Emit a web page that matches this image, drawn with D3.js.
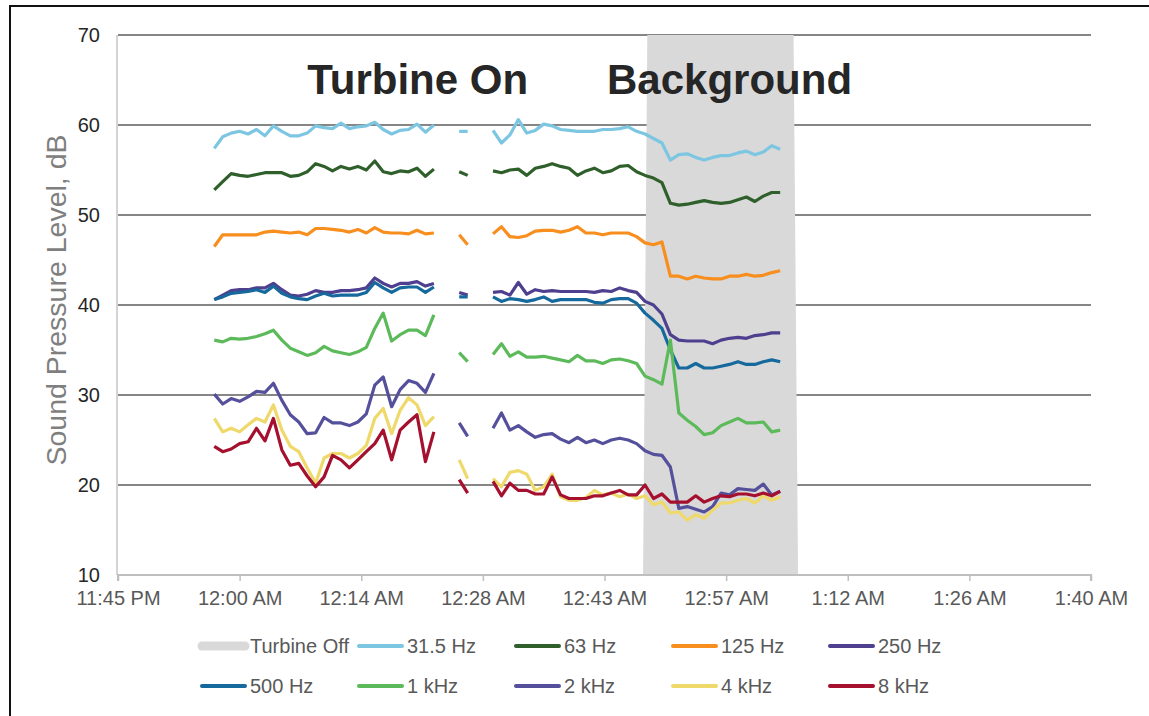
<!DOCTYPE html>
<html><head><meta charset="utf-8">
<script src="https://cdn.jsdelivr.net/npm/d3@7"></script>
<style>
html,body{margin:0;padding:0;background:#fff;}
svg{display:block;font-family:"Liberation Sans",Arial,sans-serif;}
</style></head>
<body><svg id="chart" width="1149" height="716"></svg>
<script>
// ---------- data ----------
const yTicks = [10, 20, 30, 40, 50, 60, 70];
const xTickTimes = ["23:45:36","00:00:00","00:14:24","00:28:48","00:43:12","00:57:36","01:12:00","01:26:24","01:40:48"];
const xTickLabels = ["11:45 PM","12:00 AM","12:14 AM","12:28 AM","12:43 AM","12:57 AM","1:12 AM","1:26 AM","1:40 AM"];
const firstSample = "23:57:00";   // one sample per minute
const sampleCount = 68;

const s31 = [57.4,58.7,59.1,59.3,59.0,59.5,58.8,59.9,59.3,58.8,58.8,59.1,59.9,59.7,59.6,60.2,59.6,59.8,59.9,60.3,59.5,59.0,59.4,59.5,60.1,59.2,60.0,
  null,null,59.3,59.3,null,null,
  59.4,58.0,58.9,60.6,59.1,59.4,60.1,59.9,59.5,59.4,59.3,59.3,59.3,59.5,59.5,59.6,59.8,
  59.3,59.0,58.5,58.0,
  56.1,56.7,56.8,56.4,56.1,56.4,56.6,56.6,56.9,57.1,56.7,57.0,57.7,57.3];
const s63 = [52.8,53.7,54.6,54.4,54.3,54.5,54.7,54.7,54.7,54.3,54.4,54.8,55.7,55.4,54.9,55.4,55.1,55.4,55.0,56.0,54.8,54.6,54.9,54.8,55.2,54.3,55.1,
  null,null,54.8,54.4,null,null,
  54.9,54.7,55.0,55.1,54.4,55.2,55.4,55.7,55.4,55.2,54.4,54.9,55.2,54.7,54.9,55.4,55.5,
  54.8,54.4,54.1,53.6,
  51.3,51.1,51.2,51.4,51.6,51.4,51.3,51.4,51.7,52.0,51.5,52.1,52.5,52.5];
const s125 = [46.5,47.8,47.8,47.8,47.8,47.8,48.1,48.2,48.1,48.0,48.1,47.8,48.5,48.5,48.4,48.3,48.1,48.4,48.0,48.6,48.1,48.0,48.0,47.9,48.3,47.9,48.0,
  null,null,47.8,46.7,null,null,
  47.9,48.7,47.6,47.5,47.7,48.2,48.3,48.3,48.1,48.3,48.7,48.0,48.0,47.8,48.0,48.0,48.0,
  47.6,46.9,46.7,47.0,
  43.2,43.2,42.9,43.2,43.0,42.9,42.9,43.2,43.2,43.4,43.2,43.3,43.6,43.8];
const s250 = [40.6,41.1,41.6,41.7,41.7,41.9,41.9,42.4,41.7,41.1,41.0,41.2,41.6,41.4,41.4,41.6,41.6,41.7,41.9,43.0,42.4,42.0,42.4,42.4,42.6,42.1,42.4,
  null,null,41.4,41.1,null,null,
  41.4,41.5,41.1,42.5,41.2,41.7,41.5,41.6,41.5,41.5,41.5,41.5,41.4,41.6,41.5,41.9,41.6,
  41.4,40.4,40.0,39.0,
  36.7,36.1,36.0,36.0,36.0,35.7,36.1,36.3,36.4,36.3,36.6,36.7,36.9,36.9];
const s500 = [40.6,40.9,41.3,41.4,41.5,41.7,41.4,42.1,41.3,40.9,40.7,40.6,41.0,41.3,41.0,41.1,41.1,41.1,41.4,42.5,41.9,41.4,41.9,42.0,42.0,41.4,42.0,
  null,null,40.9,40.9,null,null,
  40.9,40.4,40.7,40.6,40.4,40.6,40.9,40.4,40.6,40.6,40.6,40.6,40.3,40.2,40.6,40.7,40.7,
  40.2,39.1,38.3,37.4,
  35.0,33.0,33.0,33.5,33.0,33.0,33.2,33.4,33.7,33.4,33.4,33.7,33.9,33.7];
const s1k = [36.1,35.9,36.3,36.2,36.3,36.5,36.8,37.2,36.1,35.2,34.8,34.4,34.7,35.4,34.9,34.7,34.5,34.8,35.3,37.4,39.1,36.0,36.7,37.2,37.2,36.6,38.9,
  null,null,34.7,33.7,null,null,
  34.5,35.7,34.3,34.8,34.2,34.2,34.3,34.1,33.9,33.7,34.4,33.8,33.8,33.5,33.9,34.0,33.8,
  33.5,32.1,31.7,31.2,
  36.1,28.0,27.2,26.5,25.6,25.8,26.6,27.0,27.4,26.9,26.9,27.0,25.9,26.1];
const s2k = [30.1,29.0,29.6,29.3,29.8,30.4,30.3,31.3,29.4,27.8,27.0,25.7,25.8,27.5,26.9,26.9,26.6,27.0,27.9,31.1,32.0,28.7,30.6,31.6,31.3,30.3,32.4,
  null,null,26.9,25.4,null,null,
  26.3,28.0,26.1,26.6,25.9,25.3,25.6,25.7,25.1,24.7,25.3,24.7,25.0,24.6,25.0,25.2,25.0,
  24.6,23.8,23.4,23.3,
  22.0,17.4,17.6,17.3,17.0,17.6,19.1,18.9,19.6,19.5,19.4,20.1,18.9,19.3];
const s4k = [27.4,25.9,26.3,25.9,26.7,27.4,27.0,28.9,26.1,24.3,23.7,21.9,20.2,23.0,23.5,23.5,23.0,23.5,24.4,27.4,28.5,25.7,28.3,29.7,28.9,26.6,27.6,
  null,null,22.8,20.7,null,null,
  20.7,19.8,21.4,21.6,21.2,19.4,19.8,21.2,18.7,18.3,18.3,18.6,19.4,18.9,19.1,18.7,19.0,
  18.5,18.8,17.8,18.1,
  16.9,17.0,16.1,16.7,16.3,17.2,18.0,18.0,18.3,18.5,18.0,18.8,18.3,18.7];
const s8k = [24.3,23.7,24.0,24.6,24.8,26.3,24.9,27.4,23.9,22.2,22.4,21.0,19.8,20.9,23.3,22.8,21.9,22.8,23.7,24.6,26.1,22.8,26.1,27.0,27.8,22.6,25.9,
  null,null,20.6,19.1,null,null,
  20.4,18.8,20.2,19.4,19.4,19.0,19.0,20.9,18.9,18.5,18.5,18.5,18.8,18.8,19.1,19.4,18.9,
  18.9,20.0,18.5,19.0,
  18.1,18.1,18.1,18.8,18.1,18.5,18.8,18.7,19.0,19.0,18.8,19.1,18.8,19.3];

const seriesNames = ["31.5 Hz","63 Hz","125 Hz","250 Hz","500 Hz","1 kHz","2 kHz","4 kHz","8 kHz"];
const seriesValues = [s31, s63, s125, s250, s500, s1k, s2k, s4k, s8k];
const seriesColors = ["#7CC6E2","#2F5F2B","#F78E1E","#4E3F8F","#15699C","#5DBA5A","#55509B","#EED96A","#A5102E"];

const offName = "Turbine Off";
const offTimes = ["00:47:46","00:48:16","01:05:35","01:06:07"];
const offLevels = [10, 70, 70, 10];
const offColor = "#D9D9D9";

const annotations = [{t:"00:08:00", text:"Turbine On"}, {t:"00:43:30", text:"Background"}];
const yTitle = "Sound Pressure Level, dB";

// ---------- helpers ----------
function parseT(s){
  const p = s.split(":").map(Number);
  const day = p[0] >= 12 ? 1 : 2;
  return new Date(2020, 0, day, p[0], p[1], p[2] || 0);
}

const svg = d3.select("#chart");
const pLeft = 118, pRight = 1091, pTop = 35, pBottom = 575;

const x = d3.scaleTime().domain([parseT(xTickTimes[0]), parseT(xTickTimes[xTickTimes.length-1])]).range([pLeft, pRight]);
const y = d3.scaleLinear().domain([10, 70]).range([pBottom, pTop]);

const times = d3.range(sampleCount).map(i => d3.timeMinute.offset(parseT(firstSample), i));

// outer frame
svg.append("rect").attr("x", 10).attr("y", 6).attr("width", 1300).attr("height", 900)
  .attr("fill", "none").attr("stroke", "#111").attr("stroke-width", 2);

// gridlines
svg.append("g").selectAll("line").data(yTicks.filter(v => v > 10)).join("line")
  .attr("x1", pLeft).attr("x2", pRight)
  .attr("y1", d => y(d)).attr("y2", d => y(d))
  .attr("stroke", "#868686").attr("stroke-width", 2.2);

// turbine off area
const offData = offTimes.map((t, i) => ({t: parseT(t), v: offLevels[i]}));
svg.append("path").datum(offData)
  .attr("d", d3.area().x(d => x(d.t)).y0(y(10)).y1(d => y(d.v)))
  .attr("fill", offColor);

// y axis line (left)
svg.append("line").attr("x1", pLeft - 1).attr("x2", pLeft - 1).attr("y1", pTop).attr("y2", pBottom)
  .attr("stroke", "#C6C6C6").attr("stroke-width", 1.5);

// x axis
const xAxis = d3.axisBottom(x)
  .tickValues(xTickTimes.map(parseT))
  .tickFormat((d, i) => xTickLabels[i])
  .tickSize(6).tickPadding(10);
const gx = svg.append("g").attr("transform", `translate(0,${pBottom})`).call(xAxis);
gx.select(".domain").attr("stroke", "#BFBFBF").attr("stroke-width", 2).attr("d", `M${pLeft},6V0H${pRight}V6`);
gx.selectAll(".tick line").attr("stroke", "#BFBFBF").attr("stroke-width", 1.5);
gx.selectAll(".tick text").attr("fill", "#595959").attr("font-size", 20)
  .attr("font-family", "Liberation Sans, Arial, sans-serif");

// y axis labels
const yAxis = d3.axisLeft(y).tickValues(yTicks).tickSize(0).tickPadding(18);
const gy = svg.append("g").attr("transform", `translate(${pLeft},0)`).call(yAxis);
gy.select(".domain").remove();
gy.selectAll(".tick text").attr("fill", "#262626").attr("font-size", 20)
  .attr("font-family", "Liberation Sans, Arial, sans-serif");

// y title
svg.append("text").attr("transform", `translate(66,300) rotate(-90)`)
  .attr("text-anchor", "middle").attr("font-size", 28.5).attr("fill", "#7F7F7F")
  .text(yTitle);

// lines
const line = d3.line().defined(d => d.v != null).x(d => x(d.t)).y(d => y(d.v));
const gl = svg.append("g");
seriesValues.forEach((vals, k) => {
  gl.append("path").datum(vals.map((v, i) => ({t: times[i], v})))
    .attr("d", line).attr("fill", "none")
    .attr("stroke", seriesColors[k]).attr("stroke-width", 3.2)
    .attr("stroke-linejoin", "round");
});

// annotations
svg.append("g").selectAll("text").data(annotations).join("text")
  .attr("x", d => x(parseT(d.t))).attr("y", 94)
  .attr("font-size", 42).attr("font-weight", "bold").attr("fill", "#262626")
  .text(d => d.text);

// legend
const legItems = [{name: offName, color: offColor, w: 9}].concat(
  seriesNames.map((n, k) => ({name: n, color: seriesColors[k], w: 4})));
const lg = svg.append("g");
legItems.forEach((d, i) => {
  const col = i % 5, row = Math.floor(i / 5);
  const x0 = 200 + col * 157, yc = 646 + row * 40;
  lg.append("line").attr("x1", x0 + 2).attr("x2", x0 + 45).attr("y1", yc).attr("y2", yc)
    .attr("stroke", d.color).attr("stroke-width", d.w).attr("stroke-linecap", "round");
  lg.append("text").attr("x", x0 + 50).attr("y", yc + 7)
    .attr("font-size", 20).attr("fill", "#595959").text(d.name);
});
</script>
</body></html>
